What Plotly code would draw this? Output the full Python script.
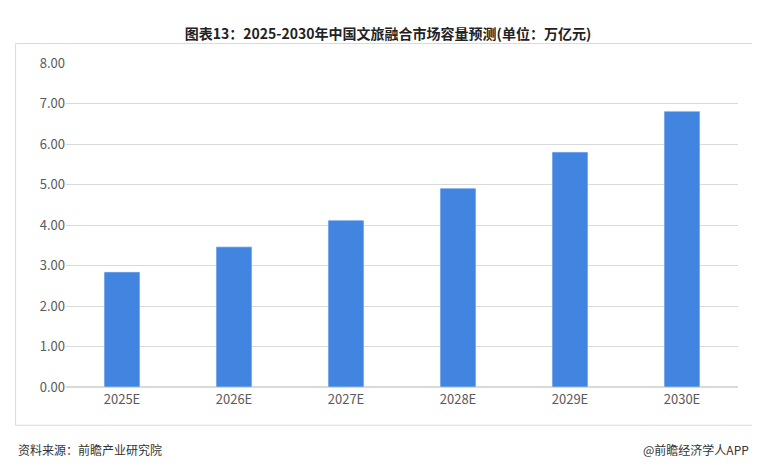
import plotly.graph_objects as go

categories = ["2025E", "2026E", "2027E", "2028E", "2029E", "2030E"]
values = [2.84, 3.46, 4.12, 4.91, 5.80, 6.81]
tick_vals = [0, 1, 2, 3, 4, 5, 6, 7, 8]

fig = go.Figure(go.Bar(x=categories, y=values, marker_color="#4285E0", width=0.32))
fig.update_layout(
    width=760, height=473, paper_bgcolor="white", plot_bgcolor="white",
    margin=dict(l=58, r=30, t=55, b=94), showlegend=False,
    font=dict(family="Noto Sans CJK SC", size=13, color="#595959"),
    title=dict(text="<b>图表13：2025-2030年中国文旅融合市场容量预测(单位：万亿元)</b>",
               x=0.5, y=0.955, xanchor="center", font=dict(size=14, color="#222")),
    yaxis=dict(range=[0, 8], tickvals=tick_vals, tickformat=".2f", gridcolor="#D9D9D9",
               zeroline=True, zerolinecolor="#D9D9D9", ticks="", fixedrange=True),
    xaxis=dict(showline=True, linecolor="#D9D9D9", ticks=""),
)
fig.add_shape(type="rect", xref="paper", yref="paper", x0=-0.075, x1=1.025, y0=-0.118, y1=1.06,
              line=dict(color="#D9D9D9", width=1))
fig.add_annotation(text="资料来源：前瞻产业研究院", xref="paper", yref="paper", x=-0.075, y=-0.225,
                   xanchor="left", showarrow=False, font=dict(size=12, color="#333"))
fig.add_annotation(text="@前瞻经济学人APP", xref="paper", yref="paper", x=1.02, y=-0.225,
                   xanchor="right", showarrow=False, font=dict(size=12, color="#333"))
fig.write_html("out.html")
